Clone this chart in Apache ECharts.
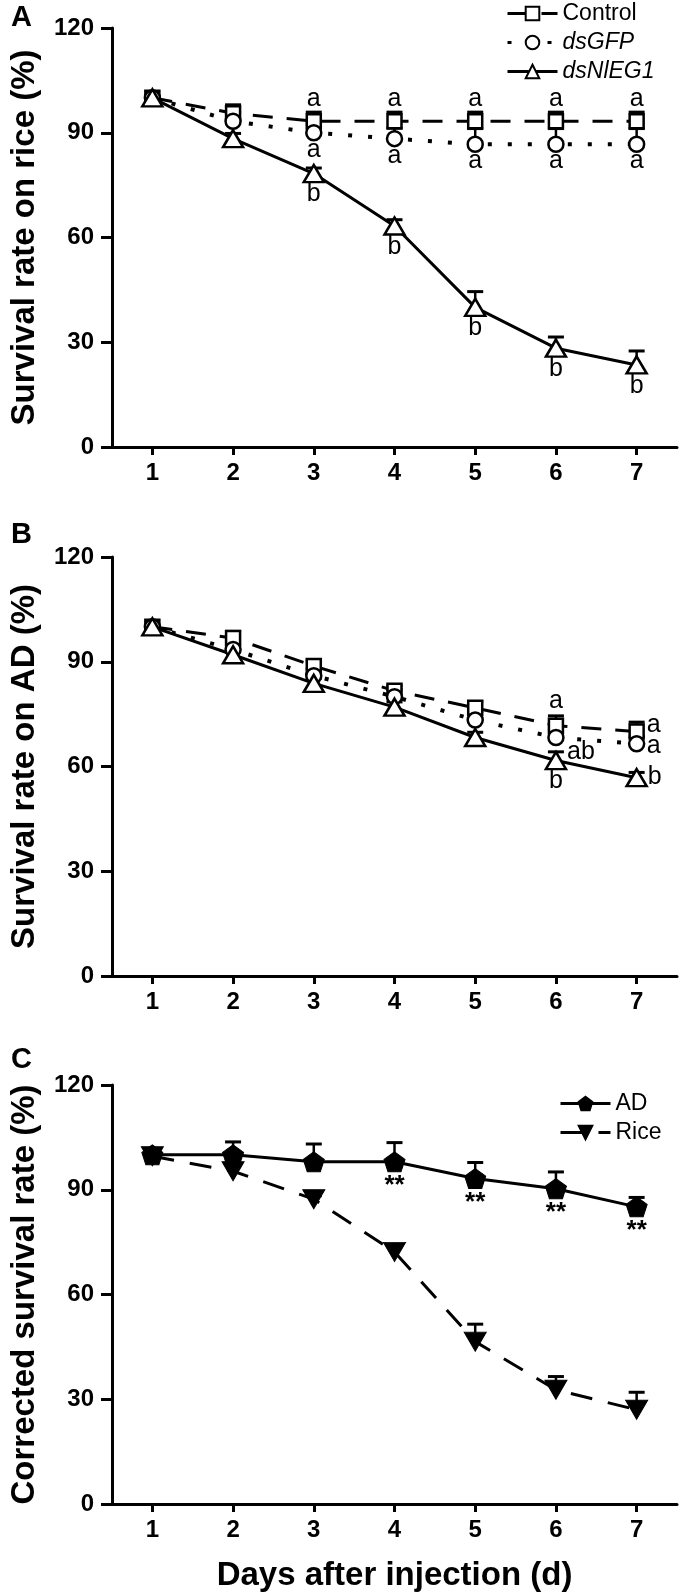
<!DOCTYPE html>
<html><head><meta charset="utf-8">
<script src="https://cdn.jsdelivr.net/npm/echarts@6/dist/echarts.min.js"></script>
<style>html,body{margin:0;padding:0;background:#fff}#c{width:681px;height:1594px}</style>
</head><body><div id="c"></div>
<script>
// ---- data ----
const days = ['1', '2', '3', '4', '5', '6', '7'];
const yTicks = [0, 30, 60, 90, 120];

// Panel A: survival on rice
const riceControl = [100, 95.6, 93.3, 93.3, 93.3, 93.3, 93.3];
const riceControlErr = [0, 2.4, 2.6, 2.6, 2.6, 2.6, 2.6];
const riceGFP = [100, 93.3, 90.0, 88.3, 86.7, 86.7, 86.7];
const riceGFPErr = [0, 2.5, 2.5, 3.0, 4.5, 4.5, 4.5];
const riceNlEG1 = [100, 88.3, 78.3, 63.3, 40.0, 28.3, 23.5];
const riceNlEG1Err = [0, 1.5, 1.6, 1.8, 4.5, 3.2, 4.0];
const riceControlLetters = ['', '', 'a', 'a', 'a', 'a', 'a'];
const riceGFPLetters = ['', '', 'a', 'a', 'a', 'a', 'a'];
const riceNlEG1Letters = ['', '', 'b', 'b', 'b', 'b', 'b'];

// Panel B: survival on AD
const adControl = [100, 96.8, 88.8, 81.7, 76.8, 71.7, 70.0];
const adControlErr = [0, 1.9, 1.5, 1.5, 1.8, 2.8, 2.7];
const adGFP = [100, 93.5, 86.0, 80.0, 73.3, 68.3, 66.5];
const adGFPErr = [0, 1.5, 2.0, 2.0, 2.5, 2.5, 2.0];
const adNlEG1 = [100, 92.0, 83.8, 77.0, 68.3, 61.7, 56.8];
const adNlEG1Err = [0, 1.2, 1.5, 1.5, 1.5, 2.5, 1.5];
const adControlLetters = ['', '', '', '', '', 'a', 'a'];
const adGFPLetters = ['', '', '', '', '', 'ab', 'a'];
const adNlEG1Letters = ['', '', '', '', '', 'b', 'b'];

// Panel C: corrected survival
const corrAD = [100, 100, 98.0, 98.0, 93.2, 90.3, 85.1];
const corrADErr = [0, 3.7, 5.1, 5.5, 4.6, 4.8, 2.7];
const corrRice = [99.6, 95.3, 87.3, 72.2, 46.5, 32.7, 27.0];
const corrRiceErr = [0, 1.5, 1.0, 1.5, 5.0, 3.8, 5.0];
const corrADStars = ['', '', '', '**', '**', '**', '**'];

// ---- styling ----
const FONT = "'Liberation Sans', Arial, Helvetica, sans-serif";
const GRID_LEFT = 104, GRID_W = 573, GRID_H = 419;
const tops = [28, 557, 1085];
const yTitles = ['Survival rate on rice (%)', 'Survival rate on AD (%)', 'Corrected survival rate (%)'];
const PENTAGON = 'path://M50,0 L100,38 L81,100 L19,100 L0,38 Z';

const chart = echarts.init(document.getElementById('c'), null, {renderer: 'canvas'});

const grids = tops.map(t => ({left: GRID_LEFT, top: t, width: GRID_W, height: GRID_H, containLabel: false}));
const xAxes = tops.map((t, i) => ({
  type: 'category', gridIndex: i, data: days, boundaryGap: true,
  axisLine: {show: true, lineStyle: {color: '#000', width: 3}},
  axisTick: {show: true, alignWithLabel: true, length: 8, lineStyle: {color: '#000', width: 3}},
  axisLabel: {color: '#000', fontFamily: FONT, fontWeight: 'bold', fontSize: 24, margin: 14},
  splitLine: {show: false},
  name: i === 2 ? 'Days after injection (d)' : '',
  nameLocation: 'middle', nameGap: 55,
  nameTextStyle: {color: '#000', fontFamily: FONT, fontWeight: 'bold', fontSize: 33}
}));
const yAxes = tops.map((t, i) => ({
  type: 'value', gridIndex: i, min: 0, max: 120, interval: 30,
  axisLine: {show: true, lineStyle: {color: '#000', width: 3}},
  axisTick: {show: true, length: 11, lineStyle: {color: '#000', width: 3}},
  axisLabel: {color: '#000', fontFamily: FONT, fontWeight: 'bold', fontSize: 24, margin: 18,
    formatter: v => yTicks.includes(v) ? String(v) : ''},
  splitLine: {show: false},
  name: yTitles[i], nameLocation: 'middle', nameRotate: 90, nameGap: 71,
  nameTextStyle: {color: '#000', fontFamily: FONT, fontWeight: 'bold', fontSize: 33}
}));

function errSeries(gi, vals, errs) {
  return {
    type: 'custom', xAxisIndex: gi, yAxisIndex: gi, z: 1, silent: true,
    data: vals.map((v, i) => [i, v, v + errs[i]]),
    encode: {x: 0, y: [1, 2]},
    renderItem(params, api) {
      const x = api.value(0);
      const lo = api.coord([x, api.value(1)]);
      const hi = api.coord([x, api.value(2)]);
      if (lo[1] - hi[1] < 1) return null;
      const w = 8;
      return {type: 'group', children: [
        {type: 'line', shape: {x1: lo[0], y1: lo[1], x2: hi[0], y2: hi[1]}, style: {stroke: '#000', lineWidth: 2.5}},
        {type: 'line', shape: {x1: hi[0] - w, y1: hi[1], x2: hi[0] + w, y2: hi[1]}, style: {stroke: '#000', lineWidth: 3}}
      ]};
    }
  };
}

function lineSeries(name, gi, vals, opt, letters, offsets) {
  return {
    name, type: 'line', xAxisIndex: gi, yAxisIndex: gi, z: 3,
    symbol: opt.symbol, symbolSize: opt.size, symbolRotate: opt.rotate || 0,
    itemStyle: {color: opt.fill, borderColor: '#000', borderWidth: opt.border || 2.5},
    lineStyle: {color: '#000', width: opt.lw || 3, type: opt.dash || 'solid', cap: 'butt'},
    emphasis: {disabled: true},
    data: vals.map((v, i) => {
      const item = {value: v};
      if (letters && letters[i]) {
        item.label = {show: true, position: 'inside', formatter: letters[i], offset: offsets[i],
          color: '#000', fontFamily: FONT, fontSize: opt.labelSize || 25,
          fontWeight: opt.labelWeight || 'normal'};
      }
      return item;
    })
  };
}

const sqOpt = {symbol: 'rect', size: 14, fill: '#fff', dash: [20, 14]};
const ciOpt = {symbol: 'circle', size: 15, fill: '#fff', dash: [4, 16], lw: 4};
const trOpt = {symbol: 'triangle', size: [20, 17], fill: '#fff'};

const series = [
  errSeries(0, riceControl, riceControlErr),
  errSeries(0, riceGFP, riceGFPErr),
  errSeries(0, riceNlEG1, riceNlEG1Err),
  lineSeries('Control', 0, riceControl, sqOpt, riceControlLetters, days.map(() => [0, -22])),
  lineSeries('dsGFP', 0, riceGFP, ciOpt, riceGFPLetters, days.map(() => [0, 17])),
  lineSeries('dsNlEG1', 0, riceNlEG1, trOpt, riceNlEG1Letters, days.map(() => [0, 21])),

  errSeries(1, adControl, adControlErr),
  errSeries(1, adGFP, adGFPErr),
  errSeries(1, adNlEG1, adNlEG1Err),
  lineSeries('Control', 1, adControl, sqOpt, adControlLetters, [null, null, null, null, null, [0, -25], [17, -6]]),
  lineSeries('dsGFP', 1, adGFP, ciOpt, adGFPLetters, [null, null, null, null, null, [25, 15], [17, 2]]),
  lineSeries('dsNlEG1', 1, adNlEG1, trOpt, adNlEG1Letters, [null, null, null, null, null, [0, 21], [18, -1]]),

  errSeries(2, corrAD, corrADErr),
  errSeries(2, corrRice, corrRiceErr),
  lineSeries('AD', 2, corrAD, {symbol: PENTAGON, size: [21, 20], fill: '#000', border: 1,
    labelSize: 26, labelWeight: 'bold'}, corrADStars, days.map(() => [0, 24])),
  lineSeries('Rice', 2, corrRice, {symbol: 'triangle', size: [22, 19], fill: '#000', border: 1,
    dash: [22, 16], rotate: 180})
];

const legendText = {color: '#000', fontFamily: FONT, fontSize: 23};
const legendCommon = {orient: 'vertical', itemWidth: 50, itemHeight: 17, padding: 0, selectedMode: false,
  textStyle: legendText, lineStyle: {width: 3}};
const option = {
  backgroundColor: '#fff',
  animation: false,
  grid: grids, xAxis: xAxes, yAxis: yAxes,
  legend: [
    Object.assign({}, legendCommon, {left: 506, top: 2, itemGap: 6,
      data: [{name: 'Control'}, {name: 'dsGFP', textStyle: {fontStyle: 'italic'}},
             {name: 'dsNlEG1', textStyle: {fontStyle: 'italic'}}]}),
    Object.assign({}, legendCommon, {left: 559, top: 1092, itemGap: 6, data: ['AD', 'Rice']})
  ],
  graphic: [
    {type: 'text', left: 11, top: 3, style: {text: 'A', font: 'bold 29px ' + FONT, fill: '#000'}},
    {type: 'text', left: 11, top: 520, style: {text: 'B', font: 'bold 29px ' + FONT, fill: '#000'}},
    {type: 'text', left: 11, top: 1045, style: {text: 'C', font: 'bold 29px ' + FONT, fill: '#000'}}
  ],
  series
};
chart.setOption(option);
</script>
</body></html>
